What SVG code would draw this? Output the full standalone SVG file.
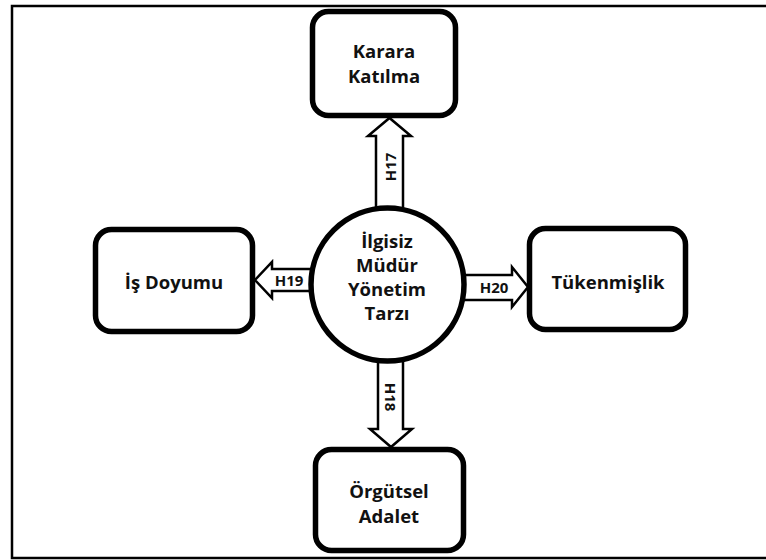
<svg xmlns="http://www.w3.org/2000/svg" width="766" height="560" viewBox="0 0 766 560">
  <style>
    .box { fill: #fff; stroke: #000; stroke-width: 5.5; }
    .arrow { fill: #fff; stroke: #000; stroke-width: 2.5; stroke-linejoin: miter; }
    .lbl { font-family: "Open Sans", "Liberation Sans", sans-serif; font-weight: bold; font-size: 18.5px; fill: #111; text-anchor: middle; dominant-baseline: central; }
    .hl { font-family: "Open Sans", "Liberation Sans", sans-serif; font-weight: bold; font-size: 15px; fill: #111; text-anchor: middle; dominant-baseline: central; }
  </style>
  <rect width="766" height="560" fill="#fff"/>
  <!-- outer frame -->
  <rect x="12" y="6" width="760" height="552" fill="none" stroke="#000" stroke-width="2.5"/>

  <!-- connectors -->
  <g id="connectors">
    <g id="h17">
      <polygon class="arrow" points="376,215 376,136 368,136 389.5,118 411,136 403,136 403,215"/>
      <text class="hl" transform="translate(390,167) rotate(-90)">H17</text>
    </g>
    <g id="h18">
      <polygon class="arrow" points="378,355 378,429 370,429 391,447 412,429 403,429 403,355"/>
      <text class="hl" transform="translate(391,397) rotate(90)">H18</text>
    </g>
    <g id="h19">
      <polygon class="arrow" points="320,269 272,269 272,262 255,280 272,298 272,291 320,291"/>
      <text class="hl" x="289" y="280">H19</text>
    </g>
    <g id="h20">
      <polygon class="arrow" points="455,275 512,275 512,267 528,287 512,307 512,300 455,300"/>
      <text class="hl" x="494" y="287">H20</text>
    </g>
  </g>

  <!-- central construct -->
  <g id="center">
    <circle class="box" cx="387.5" cy="284.5" r="76.5"/>
    <text class="lbl" x="387" y="240">İlgisiz</text>
    <text class="lbl" x="387" y="264">Müdür</text>
    <text class="lbl" x="387" y="288">Yönetim</text>
    <text class="lbl" x="387" y="312">Tarzı</text>
  </g>

  <g id="karara">
    <rect class="box" x="312.5" y="11.5" width="143" height="104" rx="16"/>
    <text class="lbl" x="384" y="50">Karara</text>
    <text class="lbl" x="384" y="75">Katılma</text>
  </g>

  <g id="orgutsel">
    <rect class="box" x="315.5" y="449.5" width="148" height="101" rx="16"/>
    <text class="lbl" x="389" y="490">Örgütsel</text>
    <text class="lbl" x="389" y="515">Adalet</text>
  </g>

  <g id="isdoyumu">
    <rect class="box" x="95.5" y="229.5" width="157" height="102" rx="16"/>
    <text class="lbl" x="174" y="281">İş Doyumu</text>
  </g>

  <g id="tukenmislik">
    <rect class="box" x="529.5" y="228.5" width="156" height="101" rx="16"/>
    <text class="lbl" x="608" y="281">Tükenmişlik</text>
  </g>
</svg>
